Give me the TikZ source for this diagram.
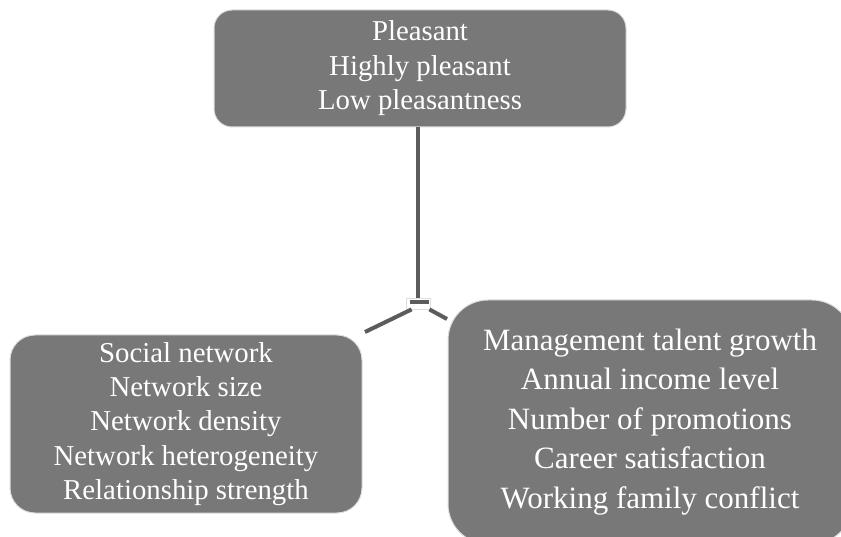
\documentclass[tikz,border=0pt]{standalone}
\usepackage{fontspec}
\setmainfont{Liberation Serif}
\newfontfamily\boxfont{Liberation Serif}
\usetikzlibrary{positioning, calc}
\definecolor{boxgray}{RGB}{120,120,120}
\definecolor{linegray}{RGB}{92,92,92}
\definecolor{rimgray}{RGB}{222,222,222}
\tikzset{
  % category box style
  catbox/.style={
    draw=rimgray
    , fill=boxgray
    , line width=1pt
    , text=white
    , align=center
    , anchor=center
    , inner sep=0pt
    %, rounded corners
  },
}
\tikzset{
  % connector style
  link/.style={
    draw=linegray
    , line width=4pt
  },
}
\tikzset{
  % joint of the three connectors
  hub/.style={
    draw=rimgray
    , fill=white
    , line width=0.8pt
    , minimum width=24pt
    , minimum height=11pt
    , inner sep=0pt
  },
}
\begin{document}
\begin{tikzpicture}[x=1pt, y=1pt]
        \useasboundingbox (0,0) rectangle (841,536);
        \clip (0,0) rectangle (841,536);
        \node[catbox, rounded corners=18pt
              , minimum width=412pt, minimum height=117pt
              , font=\boxfont\fontsize{28.8}{34.5}\selectfont]
          (pleasant) at (420,467.5)
          {Pleasant\\Highly pleasant\\Low pleasantness};
        \node[catbox, rounded corners=25pt
              , minimum width=352pt, minimum height=178pt
              , font=\boxfont\fontsize{28.8}{34.2}\selectfont]
          (network) at (186,112)
          {Social network\\Network size\\Network density\\%
           Network heterogeneity\\Relationship strength};
        \node[catbox, rounded corners=40pt
              , minimum width=404pt, minimum height=244pt
              , font=\boxfont\fontsize{31}{39.5}\selectfont]
          (career) at (650,114)
          {Management talent growth\\Annual income level\\%
           Number of promotions\\Career satisfaction\\%
           Working family conflict};
        \node[hub] (junc) at (418,232.5) {};
        \node[fill=linegray, minimum width=19pt, minimum height=4pt
              , inner sep=0pt] (bar) at ($(junc.center)+(1,1)$) {};
        \coordinate (lfoot) at (365,204);
        \coordinate (rfoot) at (447,217);
        \draw[link]
          (pleasant.south -| junc.north)
          to
          (junc.north);
        \draw[link]
          ($(junc.south west)+(6,0)$)
          to
          (lfoot);
        \draw[link]
          ($(junc.south east)+(-1,0)$)
          to
          (rfoot);
      \end{tikzpicture}
\end{document}
